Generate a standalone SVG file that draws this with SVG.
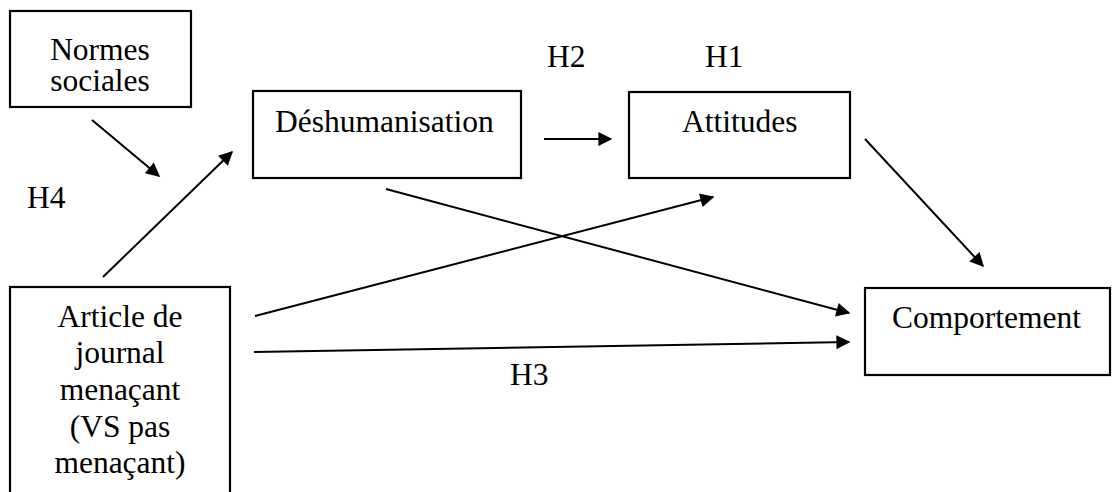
<svg xmlns="http://www.w3.org/2000/svg" width="1117" height="492" viewBox="0 0 1117 492">
<style>
.box{fill:#fff;stroke:#000;stroke-width:2.2}
.t{font-family:"Liberation Serif","Times New Roman",serif;font-size:31.5px;fill:#000}
.c{text-anchor:middle}
.ln{stroke:#000;stroke-width:2;fill:none;marker-end:url(#ah)}
</style>
<defs>
<marker id="ah" viewBox="0 0 10 10" refX="9" refY="5" markerWidth="8" markerHeight="7" markerUnits="strokeWidth" orient="auto">
<path d="M0,0 L10,5 L0,10 z" fill="#000"/>
</marker>
</defs>
<rect width="1117" height="492" fill="#fff"/>
<g id="normes">
<rect class="box" x="10" y="11" width="181" height="96"/>
<text class="t c" x="100" y="60">Normes</text>
<text class="t c" x="100" y="91">sociales</text>
</g>
<g id="deshumanisation">
<rect class="box" x="253" y="91" width="268" height="87"/>
<text class="t" x="275" y="132">Déshumanisation</text>
</g>
<g id="attitudes">
<rect class="box" x="629" y="92" width="221" height="86"/>
<text class="t" x="682" y="132">Attitudes</text>
</g>
<g id="comportement">
<rect class="box" x="865" y="288" width="245" height="87"/>
<text class="t" x="892" y="328">Comportement</text>
</g>
<g id="article">
<rect class="box" x="10" y="287" width="220" height="220"/>
<text class="t c" x="120" y="327">Article de</text>
<text class="t c" x="120" y="363">journal</text>
<text class="t c" x="120" y="400">menaçant</text>
<text class="t c" x="120" y="437">(VS pas</text>
<text class="t c" x="120" y="473">menaçant)</text>
</g>
<g id="labels">
<text class="t" x="547" y="67">H2</text>
<text class="t" x="705" y="67">H1</text>
<text class="t" x="27" y="208">H4</text>
<text class="t" x="510" y="385">H3</text>
</g>
<g id="connectors">
<line class="ln" x1="92" y1="120" x2="159" y2="176"/>
<line class="ln" x1="103" y1="277" x2="232" y2="152"/>
<line class="ln" x1="544" y1="139" x2="611" y2="139"/>
<line class="ln" x1="865" y1="139" x2="983" y2="266"/>
<line class="ln" x1="386" y1="189" x2="849" y2="313"/>
<line class="ln" x1="255" y1="316" x2="713" y2="197"/>
<line class="ln" x1="254" y1="352" x2="849" y2="342"/>
</g>
</svg>
